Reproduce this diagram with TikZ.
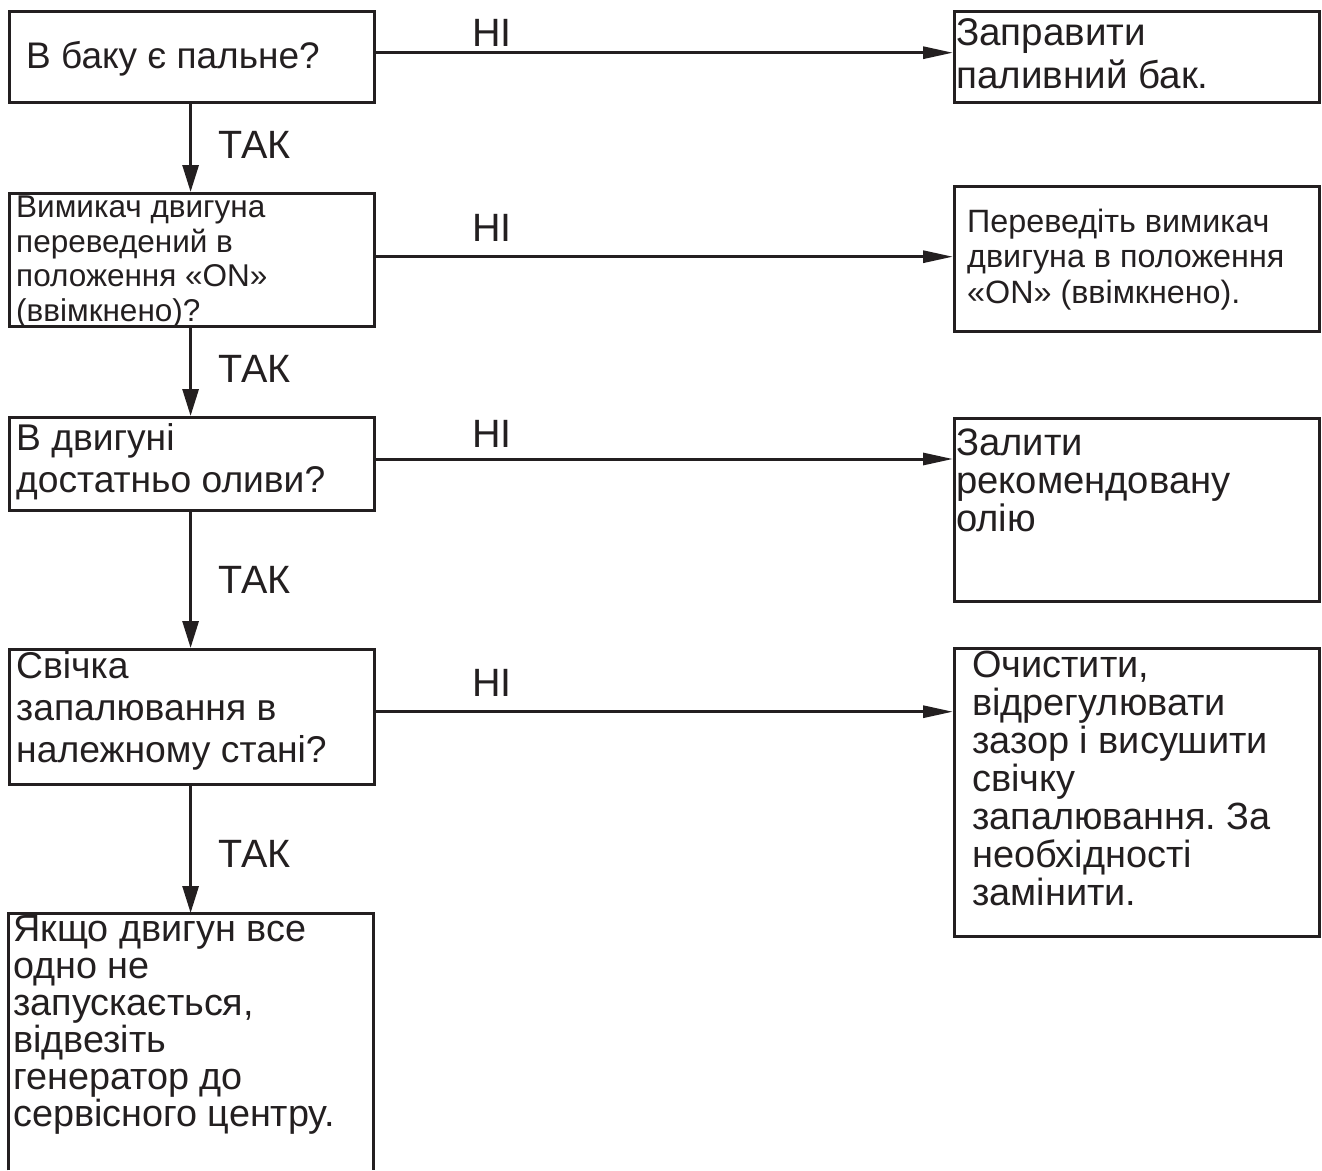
\documentclass[tikz,border=0pt]{standalone}
\usepackage{fontspec}
\setmainfont{Liberation Sans}
\usetikzlibrary{arrows.meta}
\frenchspacing
\definecolor{ink}{HTML}{231F20}
\tikzset{
  box/.style={draw=ink, line width=3pt, inner sep=0pt, anchor=north west},
  txt/.style={anchor=base west, inner sep=0pt, align=left, text=ink},
  lab/.style={anchor=base west, inner sep=0pt, text=ink, font=\fontsize{39.5}{40}\selectfont},
  down/.style={draw=ink, line width=3pt, -{Triangle[length=27pt,width=16pt]}},
  right/.style={draw=ink, line width=3pt, -{Triangle[length=30pt,width=12pt]}}
}
\begin{document}
\begin{tikzpicture}[x=1pt,y=-1pt]
\useasboundingbox (0,0) rectangle (1322,1170);
% left boxes
\node[box, minimum width=365pt, minimum height=91pt] (L1) at (8,10) {};
\node[box, minimum width=365pt, minimum height=133pt] (L2) at (8,192) {};
\node[box, minimum width=365pt, minimum height=93pt] (L3) at (8,416) {};
\node[box, minimum width=365pt, minimum height=135pt] (L4) at (8,648) {};
\node[anchor=north west, inner sep=0pt, minimum width=365pt, minimum height=257pt] (L5) at (8,913) {};
\draw[draw=ink, line width=3pt] (L5.south west) |- (L5.north east) -- (L5.south east);
% right boxes
\node[box, minimum width=365pt, minimum height=91pt] (R1) at (953,10) {};
\node[box, minimum width=365pt, minimum height=145pt] (R2) at (953,185) {};
\node[box, minimum width=365pt, minimum height=183pt] (R3) at (953,417) {};
\node[box, minimum width=365pt, minimum height=288pt] (R4) at (953,647) {};
% texts (anchor = baseline of the last line)
\node[txt, font=\fontsize{37}{40}\selectfont] (tL1) at (26,68) {В баку є пальне?};
\node[txt, font=\fontsize{31.5}{34.5}\selectfont] (tL2) at (16,321) {Вимикач двигуна\\переведений в\\положення «ON»\\(ввімкнено)?};
\node[txt, font=\fontsize{37.2}{42}\selectfont] (tL3) at (16,492) {В двигуні\\достатньо оливи?};
\node[txt, font=\fontsize{37.3}{42}\selectfont] (tL4) at (16,762) {Свічка\\запалювання в\\належному стані?};
\node[txt, font=\fontsize{37.8}{37}\selectfont] (tL5) at (13,1126) {Якщо двигун все\\одно не\\запускається,\\відвезіть\\генератор до\\сервісного центру.};
\node[txt, font=\fontsize{38.6}{43}\selectfont] (tR1) at (956,88) {Заправити\\паливний бак.};
\node[txt, font=\fontsize{32.3}{35.5}\selectfont] (tR2) at (967,303) {Переведіть вимикач\\двигуна в положення\\«ON» (ввімкнено).};
\node[txt, font=\fontsize{38.2}{38}\selectfont] (tR3) at (956,531) {Залити\\рекомендовану\\олію};
\node[txt, font=\fontsize{37.9}{38}\selectfont] (tR4) at (972,905) {Очистити,\\відрегулювати\\зазор і висушити\\свічку\\запалювання. За\\необхідності\\замінити.};
% vertical connectors
\draw[down] (L1.south -| 190.6,0) -- (L2.north -| 190.6,0);
\draw[down] (L2.south -| 190.6,0) -- (L3.north -| 190.6,0);
\draw[down] (L3.south -| 190.6,0) -- (L4.north -| 190.6,0);
\draw[down] (L4.south -| 190.6,0) -- (L5.north -| 190.6,0);
\node[lab] (y1) at (218,158) {ТАК};
\node[lab] (y2) at (218,382) {ТАК};
\node[lab] (y3) at (218,593) {ТАК};
\node[lab] (y4) at (218,867) {ТАК};
% horizontal connectors
\draw[right] (L1.east |- 0,52.7) -- (R1.west |- 0,52.7);
\draw[right] (L2.east |- 0,256.7) -- (R2.west |- 0,256.7);
\draw[right] (L3.east |- 0,459) -- (R3.west |- 0,459);
\draw[right] (L4.east |- 0,711.7) -- (R4.west |- 0,711.7);
\node[lab] (n1) at (472,46) {НІ};
\node[lab] (n2) at (472,241.7) {НІ};
\node[lab] (n3) at (472,447) {НІ};
\node[lab] (n4) at (472,696.7) {НІ};
\end{tikzpicture}
\end{document}
